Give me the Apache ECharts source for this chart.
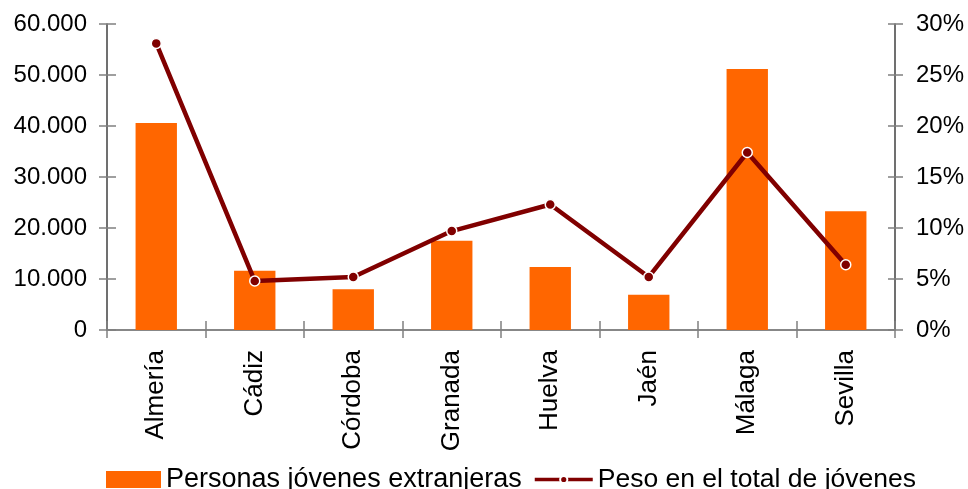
<!DOCTYPE html>
<html>
<head>
<meta charset="utf-8">
<script src="https://cdn.jsdelivr.net/npm/echarts@6/dist/echarts.min.js"></script>
<style>
html,body{margin:0;padding:0;background:#fff;}
#chart{width:968px;height:489px;}
</style>
</head>
<body>
<div id="chart"></div>
<script>
var categories = ["Almería", "Cádiz", "Córdoba", "Granada", "Huelva", "Jaén", "Málaga", "Sevilla"];
var personas = [40600, 11600, 8000, 17500, 12350, 6900, 51200, 23300];
var peso = [0.281, 0.048, 0.052, 0.097, 0.123, 0.052, 0.174, 0.064];
var seriesNames = ["Personas jóvenes extranjeras", "Peso en el total de jóvenes"];

var FONT = "Liberation Sans";
var axisDark = "#404040";
var tickGray = "#808080";

function fmtThousands(v) {
  return String(Math.round(v)).replace(/\B(?=(\d{3})+(?!\d))/g, ".");
}
function fmtPct(v) {
  return Math.round(v * 100) + "%";
}

var chart = echarts.init(document.getElementById("chart"), null, {renderer: "canvas"});
var option = {
  backgroundColor: "#fff",
  animation: false,
  textStyle: {fontFamily: FONT, color: "#000"},
  grid: {left: 107, right: 73, top: 24, bottom: 159, containLabel: false},
  legend: [
    {
      left: 101,
      top: 461,
      itemWidth: 55,
      itemHeight: 17,
      itemGap: 12,
      textStyle: {fontFamily: FONT, fontSize: 27, color: "#000"},
      data: [{name: seriesNames[0], icon: "rect"}]
    },
    {
      left: 528,
      top: 461,
      itemWidth: 58,
      itemHeight: 9,
      itemGap: 12,
      lineStyle: {width: 3.5},
      textStyle: {fontFamily: FONT, fontSize: 26.5, color: "#000"},
      data: [{name: seriesNames[1]}]
    }
  ],
  xAxis: [
    {
      type: "category",
      data: categories,
      position: "bottom",
      boundaryGap: true,
      axisLine: {show: true, lineStyle: {color: axisDark, width: 1.5}},
      axisTick: {show: true, length: 8, lineStyle: {color: tickGray, width: 1.5}},
      axisLabel: {rotate: 90, fontSize: 26, fontFamily: FONT, color: "#000", margin: 20}
    },
    {
      type: "category",
      data: categories,
      position: "bottom",
      boundaryGap: true,
      axisLine: {show: false},
      axisTick: {show: true, inside: true, length: 9, lineStyle: {color: tickGray, width: 1.5}},
      axisLabel: {show: false}
    },
    {
      type: "category",
      data: categories,
      position: "top",
      boundaryGap: true,
      axisLine: {show: true, lineStyle: {color: "#909090", width: 1.5}},
      axisTick: {show: false},
      axisLabel: {show: false}
    }
  ],
  yAxis: [
    {
      type: "value",
      position: "left",
      min: 0, max: 60000, interval: 10000,
      axisLine: {show: true, lineStyle: {color: axisDark, width: 1.5}},
      axisTick: {show: true, length: 8, lineStyle: {color: tickGray, width: 1.5}},
      splitLine: {show: false},
      axisLabel: {fontSize: 24, fontFamily: FONT, color: "#000", margin: 20, formatter: fmtThousands}
    },
    {
      type: "value",
      position: "right",
      min: 0, max: 0.30, interval: 0.05,
      axisLine: {show: true, lineStyle: {color: axisDark, width: 1.5}},
      axisTick: {show: true, length: 8, lineStyle: {color: tickGray, width: 1.5}},
      splitLine: {show: false},
      axisLabel: {fontSize: 24, fontFamily: FONT, color: "#000", margin: 21, formatter: fmtPct}
    },
    {
      type: "value",
      position: "left",
      min: 0, max: 60000, interval: 10000,
      axisLine: {show: false},
      axisTick: {show: true, inside: true, length: 9, lineStyle: {color: tickGray, width: 1.5}},
      splitLine: {show: false},
      axisLabel: {show: false}
    },
    {
      type: "value",
      position: "right",
      min: 0, max: 0.30, interval: 0.05,
      axisLine: {show: false},
      axisTick: {show: true, inside: true, length: 7, lineStyle: {color: tickGray, width: 1.5}},
      splitLine: {show: false},
      axisLabel: {show: false}
    }
  ],
  series: [
    {
      name: seriesNames[0],
      type: "bar",
      xAxisIndex: 0,
      yAxisIndex: 0,
      data: personas,
      barWidth: "42%",
      itemStyle: {color: "#FF6600"}
    },
    {
      name: seriesNames[1],
      type: "line",
      xAxisIndex: 0,
      yAxisIndex: 1,
      data: peso,
      symbol: "circle",
      symbolSize: 10,
      lineStyle: {color: "#800000", width: 4.5},
      itemStyle: {color: "#800000", borderColor: "#ffffff", borderWidth: 1.5}
    }
  ]
};
chart.setOption(option);
</script>
</body>
</html>
